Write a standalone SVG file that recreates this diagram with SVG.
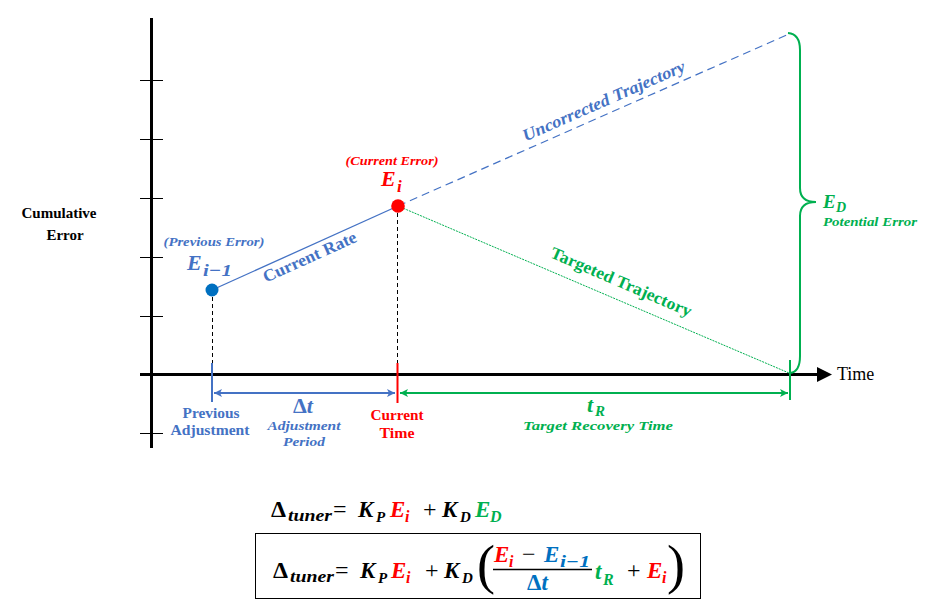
<svg xmlns="http://www.w3.org/2000/svg" width="944" height="605" viewBox="0 0 944 605" font-family="'Liberation Serif', 'Times New Roman', serif">
<defs>
<marker id="arB" viewBox="0 0 10 10" refX="10" refY="5" markerWidth="9" markerHeight="8" orient="auto-start-reverse" markerUnits="userSpaceOnUse">
<path d="M0,0 L10,5 L0,10 L2.5,5 z" fill="#4472C4"/>
</marker>
<marker id="arG" viewBox="0 0 10 10" refX="10" refY="5" markerWidth="9" markerHeight="8" orient="auto-start-reverse" markerUnits="userSpaceOnUse">
<path d="M0,0 L10,5 L0,10 L2.5,5 z" fill="#00B050"/>
</marker>
</defs>
<rect width="944" height="605" fill="#ffffff"/>

<g id="axes">
<line x1="151.5" y1="18" x2="151.5" y2="448" stroke="#000" stroke-width="3"/>
<line x1="140" y1="374.5" x2="819" y2="374.5" stroke="#000" stroke-width="3"/>
<polygon points="817,367 832,374.5 817,382" fill="#000"/>
<g stroke="#000" stroke-width="1">
<line x1="140" y1="80.5" x2="163" y2="80.5"/>
<line x1="140" y1="139.5" x2="163" y2="139.5"/>
<line x1="140" y1="198.5" x2="163" y2="198.5"/>
<line x1="140" y1="257.5" x2="163" y2="257.5"/>
<line x1="140" y1="316.5" x2="163" y2="316.5"/>
<line x1="140" y1="433.5" x2="163" y2="433.5"/>
</g>
<text font-family="Liberation Serif" font-weight="bold" fill="#000" font-size="15" x="59" y="218" text-anchor="middle">Cumulative</text>
<text font-family="Liberation Serif" font-weight="bold" fill="#000" font-size="15" x="65" y="240" text-anchor="middle">Error</text>
<text font-family="Liberation Serif" fill="#000" font-size="18" x="837" y="380">Time</text>
</g>

<g id="connectors">
<line x1="212" y1="290" x2="398" y2="206" stroke="#4472C4" stroke-width="1.3"/>
<line x1="398" y1="206" x2="789" y2="34" stroke="#4472C4" stroke-width="1.2" stroke-dasharray="8 5"/>
<line x1="398" y1="206" x2="789" y2="373" stroke="#00B050" stroke-width="1" stroke-dasharray="2 1"/>
<g stroke="#000" stroke-width="1" stroke-dasharray="4 3">
<line x1="212.5" y1="297" x2="212.5" y2="363"/>
<line x1="397.5" y1="213" x2="397.5" y2="363"/>
</g>
<line x1="212" y1="363" x2="212" y2="402" stroke="#4472C4" stroke-width="2"/>
<line x1="397.5" y1="363" x2="397.5" y2="403" stroke="#FF0000" stroke-width="2"/>
<line x1="790" y1="360" x2="790" y2="400" stroke="#00B050" stroke-width="2"/>
<line x1="214" y1="393" x2="395" y2="393" stroke="#4472C4" stroke-width="2" marker-start="url(#arB)" marker-end="url(#arB)"/>
<line x1="400" y1="393" x2="788" y2="393" stroke="#00B050" stroke-width="2" marker-start="url(#arG)" marker-end="url(#arG)"/>
<path d="M788,33 Q800,34 800,50 L800,188 Q800,202 816,202 Q800,202 800,216 L800,356 Q800,372 790,373" fill="none" stroke="#00B050" stroke-width="2"/>
</g>

<g id="prev-error" fill="#4472C4" font-weight="bold" font-style="italic">
<circle cx="212" cy="290" r="6.5" fill="#0070C0"/>
<text font-family="Liberation Serif" font-size="13" x="214" y="246" text-anchor="middle" textLength="101" lengthAdjust="spacingAndGlyphs">(Previous Error)</text>
<text font-family="Liberation Serif" font-size="22" x="187" y="270">E</text>
<text font-family="Liberation Serif" font-size="17" x="203" y="276" textLength="29" lengthAdjust="spacingAndGlyphs">i&#8722;1</text>
</g>

<g id="current-error" fill="#FF0000" font-weight="bold" font-style="italic">
<circle cx="398" cy="206" r="6.8"/>
<text font-family="Liberation Serif" font-size="13" x="392" y="165" text-anchor="middle" textLength="93" lengthAdjust="spacingAndGlyphs">(Current Error)</text>
<text font-family="Liberation Serif" font-size="22" x="381" y="186">E</text>
<text font-family="Liberation Serif" font-size="17" x="397" y="192">i</text>
</g>

<g id="line-labels" font-weight="bold" font-size="17" text-anchor="middle">
<text font-family="Liberation Serif" fill="#4472C4" transform="translate(312,262) rotate(-24.4)" textLength="101" lengthAdjust="spacingAndGlyphs">Current Rate</text>
<text font-family="Liberation Serif" fill="#4472C4" font-style="italic" transform="translate(606,106) rotate(-23.8)" textLength="176" lengthAdjust="spacingAndGlyphs">Uncorrected Trajectory</text>
<text font-family="Liberation Serif" fill="#00B050" transform="translate(619,287) rotate(23.3)" textLength="152" lengthAdjust="spacingAndGlyphs">Targeted Trajectory</text>
</g>

<g id="potential-error" fill="#00B050" font-weight="bold" font-style="italic">
<text font-family="Liberation Serif" font-size="19" x="823" y="208">E</text>
<text font-family="Liberation Serif" font-size="14" x="836" y="212">D</text>
<text font-family="Liberation Serif" font-size="12" x="823" y="226" textLength="94" lengthAdjust="spacingAndGlyphs">Potential Error</text>
</g>

<g id="time-labels" font-weight="bold" text-anchor="middle">
<g fill="#4472C4">
<text font-family="Liberation Serif" font-size="14" x="211" y="418" textLength="57" lengthAdjust="spacingAndGlyphs">Previous</text>
<text font-family="Liberation Serif" font-size="14" x="210" y="435" textLength="79" lengthAdjust="spacingAndGlyphs">Adjustment</text>
<text font-family="Liberation Serif" font-size="22" x="303" y="413">&#916;<tspan font-style="italic">t</tspan></text>
<text font-family="Liberation Serif" font-style="italic" font-size="12" x="304" y="430" textLength="73" lengthAdjust="spacingAndGlyphs">Adjustment</text>
<text font-family="Liberation Serif" font-style="italic" font-size="12" x="304" y="446" textLength="42" lengthAdjust="spacingAndGlyphs">Period</text>
</g>
<g fill="#FF0000">
<text font-family="Liberation Serif" font-size="14" x="397" y="420" textLength="53" lengthAdjust="spacingAndGlyphs">Current</text>
<text font-family="Liberation Serif" font-size="14" x="397" y="438" textLength="35" lengthAdjust="spacingAndGlyphs">Time</text>
</g>
<g fill="#00B050" font-style="italic" text-anchor="start">
<text font-family="Liberation Serif" font-size="22" x="587" y="412">t</text>
<text font-family="Liberation Serif" font-size="15" x="595" y="416">R</text>
<text font-family="Liberation Serif" font-size="13" x="598" y="430" text-anchor="middle" textLength="150" lengthAdjust="spacingAndGlyphs">Target Recovery Time</text>
</g>
</g>

<g id="equation-1" font-weight="bold" font-style="italic" fill="#000">
<text font-family="Liberation Serif" font-style="normal" font-size="24" x="271" y="517">&#916;</text>
<text font-family="Liberation Serif" font-size="16" x="288" y="521" textLength="44" lengthAdjust="spacingAndGlyphs">tuner</text>
<text font-family="Liberation Serif" font-style="normal" font-weight="normal" font-size="24" x="333" y="517">=</text>
<text font-family="Liberation Serif" font-size="23" x="358" y="517">K</text>
<text font-family="Liberation Serif" font-size="15" x="376" y="522">P</text>
<text font-family="Liberation Serif" fill="#FF0000" font-size="23" x="390" y="517">E</text>
<text font-family="Liberation Serif" fill="#FF0000" font-size="16" x="405" y="522">i</text>
<text font-family="Liberation Serif" font-style="normal" font-weight="normal" font-size="24" x="423" y="517">+</text>
<text font-family="Liberation Serif" font-size="23" x="442" y="517">K</text>
<text font-family="Liberation Serif" font-size="15" x="460" y="522">D</text>
<text font-family="Liberation Serif" fill="#00B050" font-size="23" x="475" y="517">E</text>
<text font-family="Liberation Serif" fill="#00B050" font-size="16" x="490" y="522">D</text>
</g>

<g id="equation-2" font-weight="bold" font-style="italic" fill="#000">
<rect x="255.5" y="533.5" width="445" height="65" fill="none" stroke="#000" stroke-width="1"/>
<text font-family="Liberation Serif" font-style="normal" font-size="24" x="273" y="578">&#916;</text>
<text font-family="Liberation Serif" font-size="16" x="290" y="582" textLength="44" lengthAdjust="spacingAndGlyphs">tuner</text>
<text font-family="Liberation Serif" font-style="normal" font-weight="normal" font-size="24" x="335" y="578">=</text>
<text font-family="Liberation Serif" font-size="23" x="360" y="578">K</text>
<text font-family="Liberation Serif" font-size="15" x="378" y="583">P</text>
<text font-family="Liberation Serif" fill="#FF0000" font-size="23" x="391" y="578">E</text>
<text font-family="Liberation Serif" fill="#FF0000" font-size="16" x="406" y="583">i</text>
<text font-family="Liberation Serif" font-style="normal" font-weight="normal" font-size="24" x="425" y="578">+</text>
<text font-family="Liberation Serif" font-size="23" x="444" y="578">K</text>
<text font-family="Liberation Serif" font-size="15" x="462" y="583">D</text>
<text font-family="Liberation Serif" font-style="normal" font-weight="normal" font-size="54" x="477" y="583">(</text>
<text font-family="Liberation Serif" fill="#FF0000" font-size="23" x="494" y="562">E</text>
<text font-family="Liberation Serif" fill="#FF0000" font-size="16" x="509" y="567">i</text>
<text font-family="Liberation Serif" font-style="normal" font-weight="normal" font-size="24" x="522" y="562">&#8722;</text>
<text font-family="Liberation Serif" fill="#0070C0" font-size="23" x="544" y="562">E</text>
<text font-family="Liberation Serif" fill="#0070C0" font-size="16" x="560" y="567" textLength="30" lengthAdjust="spacingAndGlyphs">i&#8722;1</text>
<line x1="493" y1="569.5" x2="592" y2="569.5" stroke="#000" stroke-width="1.6"/>
<text font-family="Liberation Serif" fill="#0070C0" font-style="normal" font-size="23" x="527" y="590">&#916;<tspan font-style="italic">t</tspan></text>
<text font-family="Liberation Serif" fill="#00B050" font-size="23" x="595" y="579">t</text>
<text font-family="Liberation Serif" fill="#00B050" font-size="16" x="603" y="585">R</text>
<text font-family="Liberation Serif" font-style="normal" font-weight="normal" font-size="24" x="627" y="578">+</text>
<text font-family="Liberation Serif" fill="#FF0000" font-size="23" x="647" y="578">E</text>
<text font-family="Liberation Serif" fill="#FF0000" font-size="16" x="662" y="583">i</text>
<text font-family="Liberation Serif" font-style="normal" font-weight="normal" font-size="54" x="667" y="583">)</text>
</g>
</svg>
